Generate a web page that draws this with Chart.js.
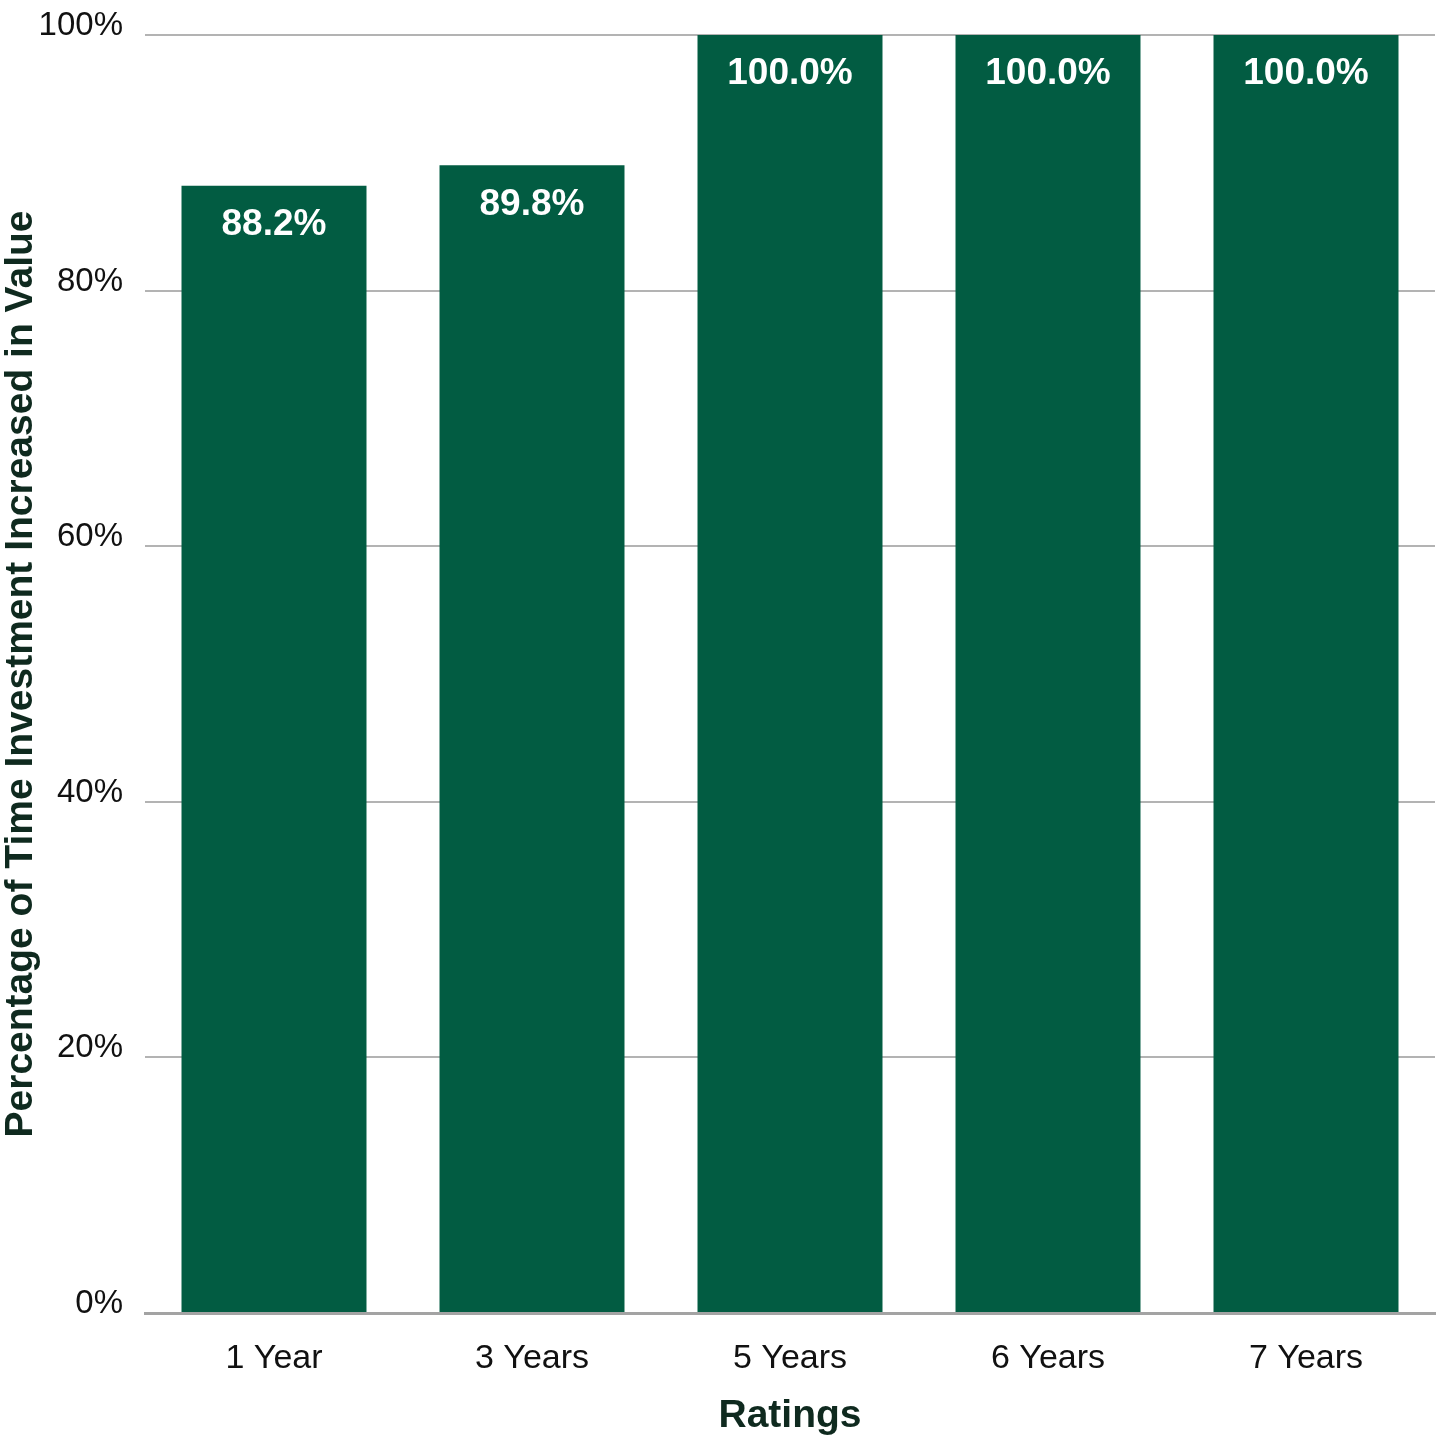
<!DOCTYPE html>
<html>
<head>
<meta charset="utf-8">
<script src="https://cdn.jsdelivr.net/npm/chart.js@4"></script>
<style>
  html, body { margin: 0; padding: 0; background: #fff; }
  #wrap { width: 1440px; height: 1440px; }
</style>
</head>
<body>
<div id="wrap"><canvas id="grafico"></canvas></div>
<script>
  // Datos
  const categorias = ["1 Year", "3 Years", "5 Years", "6 Years", "7 Years"];
  const valores = [88.2, 89.8, 100.0, 100.0, 100.0];
  const ticksY = [0, 20, 40, 60, 80, 100];

  const verde = "#025c42";
  const textoOscuro = "#0f2a1f";

  // Etiquetas blancas dentro de cada barra
  const etiquetas = {
    id: "etiquetas",
    afterDatasetsDraw(chart) {
      const ctx = chart.ctx;
      const meta = chart.getDatasetMeta(0);
      ctx.save();
      ctx.fillStyle = "#ffffff";
      ctx.font = "bold 37px 'Liberation Sans', Arial, sans-serif";
      ctx.textAlign = "center";
      ctx.textBaseline = "middle";
      meta.data.forEach((bar, i) => {
        ctx.fillText(valores[i].toFixed(1) + "%", bar.x, bar.y + 39);
      });
      ctx.restore();
    },
  };

  new Chart(document.getElementById("grafico"), {
    type: "bar",
    data: {
      labels: categorias,
      datasets: [
        {
          data: valores,
          backgroundColor: verde,
          borderWidth: 0,
          categoryPercentage: 1,
          barPercentage: 0.717,
        },
      ],
    },
    options: {
      responsive: true,
      maintainAspectRatio: false,
      animation: false,
      layout: { padding: { top: 35, right: 5, left: 0, bottom: 0 } },
      plugins: {
        legend: { display: false },
        tooltip: { enabled: false },
      },
      scales: {
        x: {
          grid: { display: false },
          border: { display: true, color: "#a3a3a3", width: 3 },
          ticks: {
            color: "#111",
            font: { family: "'Liberation Sans', Arial, sans-serif", size: 34 },
            padding: 17,
            maxRotation: 0,
          },
          title: {
            display: true,
            text: "Ratings",
            color: textoOscuro,
            font: { family: "'Liberation Sans', Arial, sans-serif", size: 39, weight: "bold" },
            padding: { top: 0, bottom: 0 },
          },
          afterFit(scale) {
            scale.height = 127;
            scale.paddingLeft = 0;
            scale.paddingRight = 0;
          },
        },
        y: {
          min: 0,
          max: 100,
          afterBuildTicks(scale) {
            scale.ticks = ticksY.map((v) => ({ value: v }));
          },
          grid: { color: "#b3b3b3", lineWidth: 2, drawTicks: false },
          border: { display: false },
          ticks: {
            color: "#111",
            font: { family: "'Liberation Sans', Arial, sans-serif", size: 33 },
            padding: 22,
            labelOffset: -9,
            callback: (v) => v + "%",
          },
          title: {
            display: true,
            text: "Percentage of Time Investment Increased in Value",
            color: textoOscuro,
            font: { family: "'Liberation Sans', Arial, sans-serif", size: 39, weight: "bold", lineHeight: 1.1 },
            padding: 0,
          },
          afterFit(scale) {
            scale.width = 145;
            scale.paddingTop = 0;
            scale.paddingBottom = 0;
          },
        },
      },
    },
    plugins: [etiquetas],
  });
</script>
</body>
</html>
